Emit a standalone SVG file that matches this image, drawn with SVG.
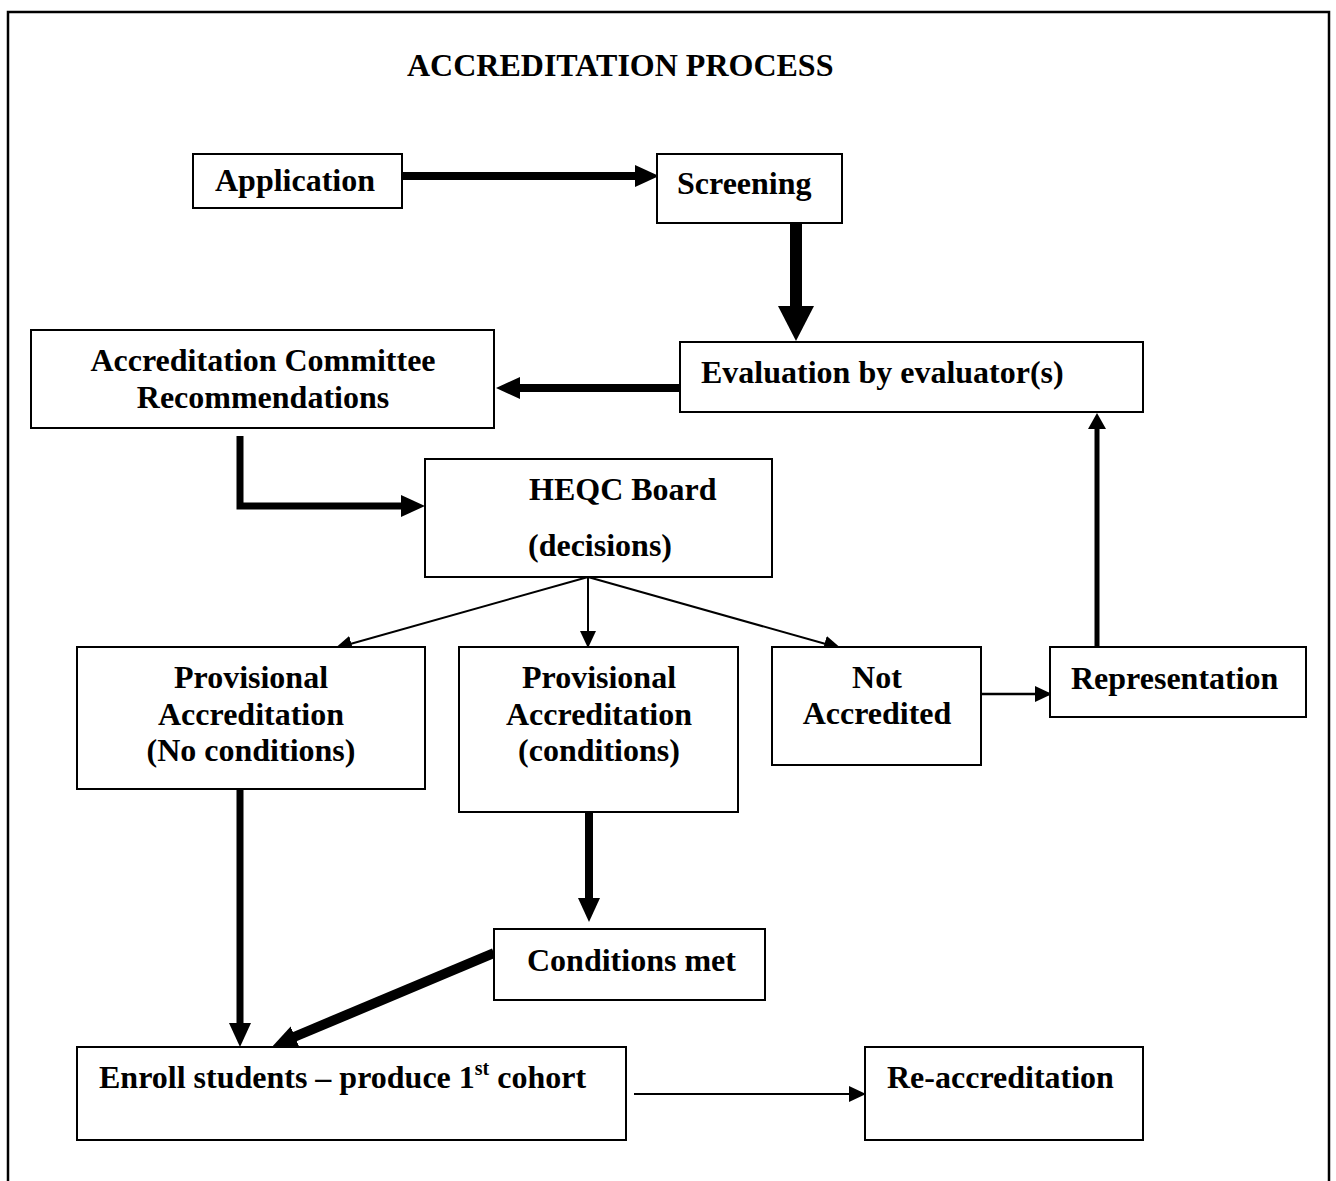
<svg xmlns="http://www.w3.org/2000/svg" width="1336" height="1181" viewBox="0 0 1336 1181">
<style>
.box{fill:#fff;stroke:#000;stroke-width:2}
.t{font-family:"Liberation Serif","Times New Roman",serif;font-weight:bold;font-size:32px;fill:#000}
.m{text-anchor:middle}
.c{fill:none;stroke:#000;stroke-linecap:butt;stroke-linejoin:miter}
</style>
<defs>
<marker id="ahA" markerUnits="userSpaceOnUse" markerWidth="24" markerHeight="24" viewBox="0 0 24 24" refX="1" refY="12" orient="auto"><path d="M0,1 L24,12 L0,23 z" fill="#000"/></marker>
<marker id="ahBig" markerUnits="userSpaceOnUse" markerWidth="36" markerHeight="36" viewBox="0 0 36 36" refX="1" refY="18" orient="auto"><path d="M0,0 L35,18 L0,36 z" fill="#000"/></marker>
<marker id="ahThin" markerUnits="userSpaceOnUse" markerWidth="17" markerHeight="16" viewBox="0 0 17 16" refX="16" refY="8" orient="auto"><path d="M0,0 L17,8 L0,16 z" fill="#000"/></marker>
<marker id="ahMid" markerUnits="userSpaceOnUse" markerWidth="16" markerHeight="18" viewBox="0 0 16 18" refX="1" refY="9" orient="auto"><path d="M0,0 L16,9 L0,18 z" fill="#000"/></marker>
</defs>
<rect x="0" y="0" width="1336" height="1181" fill="#fff"/>
<rect x="8" y="12" width="1321" height="1190" fill="none" stroke="#000" stroke-width="2.5"/>
<text class="t" x="407" y="76">ACCREDITATION PROCESS</text>

<g id="connectors">
<line class="c" x1="402" y1="176" x2="636" y2="176" stroke-width="8" marker-end="url(#ahA)"/>
<line class="c" x1="796" y1="223" x2="796" y2="307" stroke-width="12" marker-end="url(#ahBig)"/>
<line class="c" x1="680" y1="388" x2="519" y2="388" stroke-width="8" marker-end="url(#ahA)"/>
<polyline class="c" points="240,436 240,506 402,506" stroke-width="7" marker-end="url(#ahA)"/>
<line class="c" x1="588" y1="577" x2="336" y2="648" stroke-width="2" marker-end="url(#ahThin)"/>
<line class="c" x1="588" y1="577" x2="588" y2="647" stroke-width="2" marker-end="url(#ahThin)"/>
<line class="c" x1="588" y1="577" x2="840" y2="648" stroke-width="2" marker-end="url(#ahThin)"/>
<line class="c" x1="981" y1="694" x2="1051" y2="694" stroke-width="2.5" marker-end="url(#ahThin)"/>
<line class="c" x1="1097" y1="647" x2="1097" y2="428" stroke-width="5" marker-end="url(#ahMid)"/>
<line class="c" x1="240" y1="789" x2="240" y2="1024" stroke-width="7" marker-end="url(#ahA)"/>
<line class="c" x1="589" y1="813" x2="589" y2="899" stroke-width="8" marker-end="url(#ahA)"/>
<line class="c" x1="494" y1="953" x2="294" y2="1037" stroke-width="10" marker-end="url(#ahA)"/>
<line class="c" x1="634" y1="1094" x2="865" y2="1094" stroke-width="2" marker-end="url(#ahThin)"/>
</g>

<g id="application"><rect class="box" x="193" y="154" width="209" height="54"/><text class="t" x="215" y="191">Application</text></g>
<g id="screening"><rect class="box" x="657" y="154" width="185" height="69"/><text class="t" x="677" y="194">Screening</text></g>
<g id="evaluation"><rect class="box" x="680" y="342" width="463" height="70"/><text class="t" x="701" y="383">Evaluation by evaluator(s)</text></g>
<g id="committee"><rect class="box" x="31" y="330" width="463" height="98"/><text class="t m" x="263" y="371">Accreditation Committee</text><text class="t m" x="263" y="408">Recommendations</text></g>
<g id="heqc"><rect class="box" x="425" y="459" width="347" height="118"/><text class="t" x="529" y="500">HEQC Board</text><text class="t" x="528" y="556">(decisions)</text></g>
<g id="prov-noconditions"><rect class="box" x="77" y="647" width="348" height="142"/><text class="t m" x="251" y="688">Provisional</text><text class="t m" x="251" y="725">Accreditation</text><text class="t m" x="251" y="761">(No conditions)</text></g>
<g id="prov-conditions"><rect class="box" x="459" y="647" width="279" height="165"/><text class="t m" x="599" y="688">Provisional</text><text class="t m" x="599" y="725">Accreditation</text><text class="t m" x="599" y="761">(conditions)</text></g>
<g id="not-accredited"><rect class="box" x="772" y="647" width="209" height="118"/><text class="t m" x="877" y="688">Not</text><text class="t m" x="877" y="724">Accredited</text></g>
<g id="representation"><rect class="box" x="1050" y="647" width="256" height="70"/><text class="t" x="1071" y="689">Representation</text></g>
<g id="conditions-met"><rect class="box" x="494" y="929" width="271" height="71"/><text class="t" x="527" y="971">Conditions met</text></g>
<g id="enroll"><rect class="box" x="77" y="1047" width="549" height="93"/><text class="t" x="99" y="1088">Enroll students – produce 1<tspan font-size="20" dy="-13">st</tspan><tspan dy="13"> cohort</tspan></text></g>
<g id="reaccreditation"><rect class="box" x="865" y="1047" width="278" height="93"/><text class="t" x="887" y="1088">Re-accreditation</text></g>
</svg>
